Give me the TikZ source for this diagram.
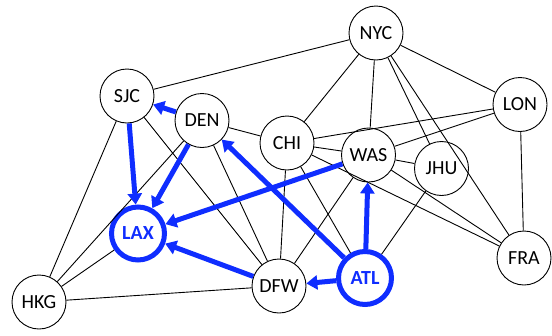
\documentclass[tikz,border=0pt]{standalone}
\usepackage{fontspec}
\setmainfont{Carlito}
\usetikzlibrary{arrows.meta}
\definecolor{hiblue}{RGB}{15,45,255}
\tikzset{
  city/.style={circle,draw=black,line width=0.9pt,minimum size=54pt,inner sep=0pt,fill=white,font=\fontsize{20}{24}\selectfont},
  hicity/.style={circle,draw=hiblue,line width=5pt,minimum size=53pt,inner sep=0pt,fill=white,text=hiblue,font=\fontsize{20}{24}\selectfont\bfseries},
  link/.style={draw=black,line width=0.9pt},
  route/.style={draw=hiblue,line width=5pt,-{Triangle[length=11pt,width=14pt]}}
}
\begin{document}
\begin{tikzpicture}[x=1pt,y=-1pt]
\useasboundingbox (0,0) rectangle (552,335);
\node[city] (NYC) at (376,33) {NYC};
\node[city] (LON) at (520,104.5) {LON};
\node[city] (SJC) at (127,96) {SJC};
\node[city] (DEN) at (202,120.5) {DEN};
\node[city] (CHI) at (287,143) {CHI};
\node[city] (WAS) at (368.5,155) {WAS};
\node[city] (JHU) at (441.5,168.5) {JHU};
\node[hicity] (LAX) at (138,233.5) {LAX};
\node[city] (HKG) at (39,302) {HKG};
\node[city] (DFW) at (279,286) {DFW};
\node[hicity] (ATL) at (365,278) {ATL};
\node[city] (FRA) at (524,258) {FRA};
\foreach \a/\b in {NYC/SJC,NYC/LON,NYC/CHI,NYC/WAS,NYC/JHU,NYC/FRA,
  LON/CHI,LON/WAS,LON/FRA,CHI/DEN,CHI/WAS,CHI/DFW,CHI/ATL,CHI/FRA,
  WAS/JHU,WAS/FRA,WAS/DFW,JHU/ATL,SJC/HKG,SJC/DFW,DEN/HKG,DEN/DFW,
  HKG/LAX,HKG/DFW}
  \draw[link] (\a) -- (\b);
\draw[route] (SJC) -- (LAX);
\draw[route] (DEN) -- (LAX);
\draw[route] (WAS) -- (LAX);
\draw[route] (DFW) -- (LAX);
\draw[route] (DEN) -- (SJC);
\draw[route] (ATL) -- (DEN);
\draw[route] (ATL) -- (WAS);
\draw[route] (ATL) -- (DFW);
\end{tikzpicture}
\end{document}
